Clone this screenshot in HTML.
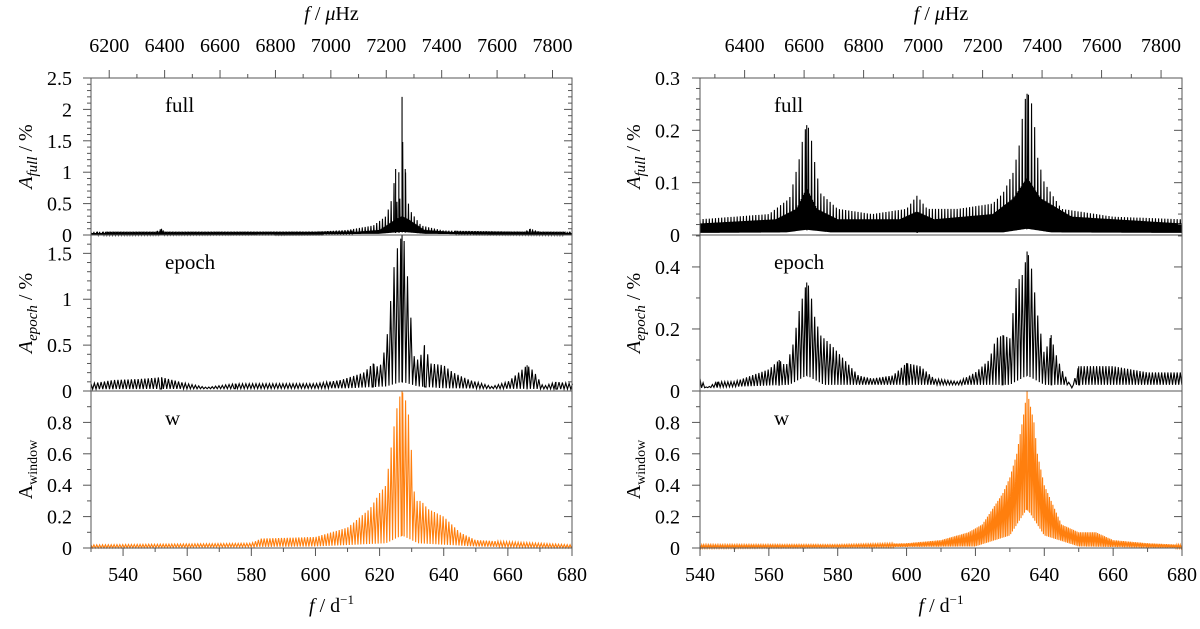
<!DOCTYPE html>
<html><head><meta charset="utf-8">
<style>
html,body{margin:0;padding:0;background:#fff;}
svg, svg text{font-family:"Liberation Serif","DejaVu Serif",serif;}
</style></head>
<body>
<svg id="fig" width="1200" height="624" viewBox="0 0 1200 624" xmlns="http://www.w3.org/2000/svg" font-family="Liberation Serif, DejaVu Serif, serif"></svg>
<script>
// ---- data: envelope knots (frequency d^-1, amplitude) ----
const lFullF = [530,550,552,553,600,610,618,622,624,625,625.5,626,626.5,627,627.5,628,629,630,633,640,665,667,670,680];
const lFullU = [0.05,0.05,0.1,0.05,0.05,0.08,0.15,0.3,0.6,1.05,0.4,1.0,0.3,2.2,0.4,1.05,0.5,0.35,0.15,0.07,0.05,0.1,0.05,0.05];
const lFullLowF = [530,620,627,634,680];
const lFullLowV = [0.0,0.02,0.05,0.02,0.0];
const lFullCoreF = [530,610,620,625,627,629,634,645,680];
const lFullCoreV = [0.03,0.04,0.08,0.25,0.3,0.25,0.08,0.04,0.03];

const lEpF = [530,537,545,552,560,566,575,590,600,608,615,618,620,622,623,624,625,626,627,628,629,630,631,633,634,636,640,643,648,655,660,664,666,668,671,675,680];
const lEpU = [0.08,0.12,0.13,0.15,0.08,0.04,0.08,0.08,0.08,0.12,0.2,0.3,0.25,0.5,0.8,1.2,1.5,1.6,1.7,1.6,1.1,0.7,0.3,0.4,0.5,0.3,0.28,0.2,0.12,0.05,0.1,0.22,0.28,0.22,0.05,0.1,0.08];
const lEpLowF = [530,610,622,627,632,640,680];
const lEpLowV = [0.02,0.03,0.05,0.1,0.05,0.03,0.02];

const lWinF = [530,580,583,600,610,617,620,622,624,625,626,627,628,629,630,631,633,635,640,645,650,660,680];
const lWinU = [0.02,0.03,0.06,0.07,0.13,0.25,0.35,0.4,0.7,0.85,0.95,1.0,0.95,0.85,0.6,0.3,0.3,0.25,0.2,0.1,0.05,0.04,0.02];
const lWinLowF = [530,600,622,627,632,650,680];
const lWinLowV = [0.0,0.01,0.03,0.08,0.03,0.01,0.0];

const rFullF = [540,560,566,569,570,571,572,573,575,580,590,600,603,606,615,625,628,631,633,634,635,636,637,638,640,645,660,680];
const rFullU = [0.03,0.04,0.07,0.15,0.19,0.21,0.2,0.15,0.08,0.05,0.04,0.05,0.075,0.05,0.05,0.06,0.08,0.12,0.18,0.25,0.27,0.265,0.22,0.15,0.1,0.05,0.035,0.03];
const rFullLowF = [540,565,571,578,628,635,642,680];
const rFullLowV = [0.004,0.005,0.01,0.005,0.005,0.012,0.005,0.004];
const rFullCoreF = [540,562,568,571,574,580,598,603,608,625,631,635,639,648,680];
const rFullCoreV = [0.022,0.03,0.05,0.09,0.05,0.03,0.03,0.045,0.03,0.04,0.07,0.11,0.07,0.035,0.022];

const rEpF = [540,542,545,550,555,560,563,565,567,569,571,572,573,575,578,582,586,590,596,600,604,608,615,620,624,626,628,630,632,634,635,636,638,640,642,643,645,648,650,655,660,665,670,680];
const rEpU = [0.04,0.01,0.03,0.03,0.05,0.07,0.1,0.08,0.15,0.27,0.35,0.33,0.25,0.18,0.15,0.1,0.05,0.04,0.05,0.09,0.08,0.04,0.03,0.06,0.1,0.17,0.18,0.17,0.35,0.38,0.45,0.42,0.25,0.12,0.18,0.13,0.07,0.01,0.08,0.08,0.08,0.07,0.06,0.06];
const rEpLowF = [540,566,571,576,630,635,640,680];
const rEpLowV = [0.01,0.02,0.05,0.02,0.02,0.05,0.02,0.02];

const rWinF = [540,580,600,610,618,622,625,628,630,632,634,635,636,637,638,640,642,645,650,655,660,670,680];
const rWinU = [0.02,0.02,0.03,0.05,0.1,0.15,0.25,0.35,0.45,0.6,0.85,1.0,0.9,0.8,0.6,0.4,0.3,0.15,0.1,0.1,0.05,0.03,0.02];
const rWinLowF = [540,620,630,635,640,650,680];
const rWinLowV = [0.0,0.01,0.08,0.25,0.08,0.01,0.0];

const leftXTicks = [540,560,580,600,620,640,660,680];
const rightXTicks = [540,560,580,600,620,640,660,680];
const leftTopTicks = [6200,6400,6600,6800,7000,7200,7400,7600,7800];
const rightTopTicks = [6400,6600,6800,7000,7200,7400,7600,7800];

const NS = "http://www.w3.org/2000/svg";
const svg = document.getElementById('fig');
const FONT = '"Liberation Serif","DejaVu Serif",serif';
function mk(tag, attrs, parent){
  const e = document.createElementNS(NS, tag);
  for (const k in attrs) e.setAttribute(k, attrs[k]);
  if (tag==='text') e.setAttribute('style','font-family:'+FONT);
  (parent||svg).appendChild(e);
  return e;
}
function interp(fs, vs, f){
  if (f<=fs[0]) return vs[0];
  for (let i=1;i<fs.length;i++){
    if (f<=fs[i]){ const t=(f-fs[i-1])/(fs[i]-fs[i-1]); return vs[i-1]+t*(vs[i]-vs[i-1]); }
  }
  return vs[vs.length-1];
}
const UHZ = 11.5741;
const rows = [[78,235],[235,391],[391,548]];
const cols = [
  {x0:91,x1:572,d0:530,d1:680,xt:leftXTicks,tt:leftTopTicks,lblX:72,titleX:32},
  {x0:700,x1:1182,d0:540,d1:680,xt:rightXTicks,tt:rightTopTicks,lblX:680,titleX:640}
];
const panels = [
  {c:0,r:0,ymax:2.5,maj:0.5,min:0.1,F:lFullF,U:lFullU,LF:lFullLowF,LV:lFullLowV,CF:lFullCoreF,CV:lFullCoreV,per:0.3,col:'#000',lab:'full',title:'full',name:'left-full'},
  {c:0,r:1,ymax:1.7,maj:0.5,min:0.1,F:lEpF,U:lEpU,LF:lEpLowF,LV:lEpLowV,per:1.05,col:'#000',lab:'epoch',title:'epoch',name:'left-epoch'},
  {c:0,r:2,ymax:1.0,maj:0.2,min:0.1,F:lWinF,U:lWinU,LF:lWinLowF,LV:lWinLowV,per:0.9,col:'#ff7f0e',lab:'w',title:'window',name:'left-window'},
  {c:1,r:0,ymax:0.3,maj:0.1,min:0.02,F:rFullF,U:rFullU,LF:rFullLowF,LV:rFullLowV,CF:rFullCoreF,CV:rFullCoreV,per:0.3,col:'#000',lab:'full',title:'full',name:'right-full'},
  {c:1,r:1,ymax:0.503,maj:0.2,min:0.1,F:rEpF,U:rEpU,LF:rEpLowF,LV:rEpLowV,per:0.9,col:'#000',lab:'epoch',title:'epoch',name:'right-epoch'},
  {c:1,r:2,ymax:1.0,maj:0.2,min:0.1,F:rWinF,U:rWinU,LF:rWinLowF,LV:rWinLowV,per:0.5,col:'#ff7f0e',lab:'w',title:'window',name:'right-window'}
];
function fmt(v){ return String(Math.round(v*100)/100); }

panels.forEach(p=>{
  const C = cols[p.c], R = rows[p.r];
  const xs = f => C.x0 + (f-C.d0)/(C.d1-C.d0)*(C.x1-C.x0);
  const ys = v => R[1] - Math.min(v,p.ymax)/p.ymax*(R[1]-R[0]);
  const g = mk('g', {});
  
  
  const spikes = [];
  for (let i=1;i<p.F.length-1;i++){
    if (p.U[i]>p.U[i-1] && p.U[i]>=p.U[i+1]) spikes.push(p.F[i]);
  }
  const step = p.per/2;
  const pts = [];
  let si = 0;
  const n = Math.round((C.d1-C.d0)/step);
  for (let i=0;i<=n;i++){
    const f = C.d0 + i*step;
    while (si<spikes.length && spikes[si] < f){
      const k = spikes[si];
      if (k > C.d0){
        pts.push([k-0.02, interp(p.LF,p.LV,k)]);
        pts.push([k, interp(p.F,p.U,k)]);
        pts.push([k+0.02, interp(p.LF,p.LV,k)]);
      }
      si++;
    }
    let v;
    if (i%2===1) v = interp(p.LF,p.LV,f);
    else if (p.CF && (i%6)!==0) v = Math.min(interp(p.CF,p.CV,f), interp(p.F,p.U,f));
    else v = interp(p.F,p.U,f);
    pts.push([f, v]);
  }
  const line = mk('polyline', {points:pts.map(q=>xs(q[0]).toFixed(2)+','+ys(q[1]).toFixed(2)).join(' '), fill:'none', stroke:p.col, 'stroke-width':1.1}, g);
  
  
  const fr = mk('rect', {x:C.x0, y:R[0], width:C.x1-C.x0, height:R[1]-R[0], fill:'none', stroke:'#555', 'stroke-width':1}, g);
  
  
  const nmin = Math.floor(p.ymax/p.min+1e-6);
  for (let i=0;i<=nmin;i++){
    const v = i*p.min; const y = ys(v);
    const isMaj = Math.abs(v/p.maj - Math.round(v/p.maj))<1e-6;
    const len = isMaj?8:4;
    mk('line',{x1:C.x0-len,x2:C.x0,y1:y,y2:y,stroke:'#555','stroke-width':1},g);
    mk('line',{x1:C.x1-len,x2:C.x1,y1:y,y2:y,stroke:'#555','stroke-width':1},g);
    const atTop = Math.abs(v-p.ymax)<1e-6;
    if (isMaj && !(atTop && p.r>0)){
      const t = mk('text',{x:C.lblX,y:y+7,'text-anchor':'end','font-size':20},g);
      t.textContent = fmt(v);
      
      
    }
  }
  const yc = (R[0]+R[1])/2;
  const tt = mk('text',{x:C.titleX,y:yc,'text-anchor':'middle','font-size':20,transform:`rotate(-90 ${C.titleX} ${yc})`},g);
  
  
  if (p.title==='window'){
    tt.innerHTML = 'A<tspan font-size="14" dy="5">window</tspan>';
  } else {
    tt.innerHTML = '<tspan font-style="italic">A</tspan><tspan font-style="italic" font-size="15" dy="5">'+p.title+'</tspan><tspan dy="-5"> / %</tspan>';
  }
  const lb = mk('text',{x:C.x0+74,y:R[0]+34,'font-size':21},g);
  lb.textContent = p.lab;
  
  
  if (p.r===2){
    for (let v=Math.ceil(C.d0/10)*10; v<=C.d1; v+=10){
      const x = xs(v); const maj = v%20===0;
      mk('line',{x1:x,x2:x,y1:R[1],y2:R[1]+(maj?8:4),stroke:'#555','stroke-width':1},g);
    }
    C.xt.forEach(v=>{
      const t = mk('text',{x:xs(v),y:R[1]+33,'text-anchor':'middle','font-size':20},g);
      t.textContent = v;
      
      
    });
    const xt = mk('text',{x:(C.x0+C.x1)/2,y:612,'text-anchor':'middle','font-size':20},g);
    xt.innerHTML = '<tspan font-style="italic">f</tspan> / d<tspan font-size="13" dy="-8">−1</tspan>';
    
    
  }
  if (p.r===0){
    for (let u=6100; u<=7900; u+=100){
      const x = xs(u/UHZ); if (x<C.x0-0.5||x>C.x1+0.5) continue;
      const maj = u%200===0;
      mk('line',{x1:x,x2:x,y1:R[0],y2:R[0]-(maj?8:4),stroke:'#555','stroke-width':1},g);
    }
    C.tt.forEach(u=>{
      const t = mk('text',{x:xs(u/UHZ),y:52,'text-anchor':'middle','font-size':20},g);
      t.textContent = u;
      
      
    });
    const xt = mk('text',{x:(C.x0+C.x1)/2,y:20,'text-anchor':'middle','font-size':20},g);
    xt.innerHTML = '<tspan font-style="italic">f</tspan> / <tspan font-style="italic">μ</tspan>Hz';
    
    
  }
});
</script>
</body></html>
